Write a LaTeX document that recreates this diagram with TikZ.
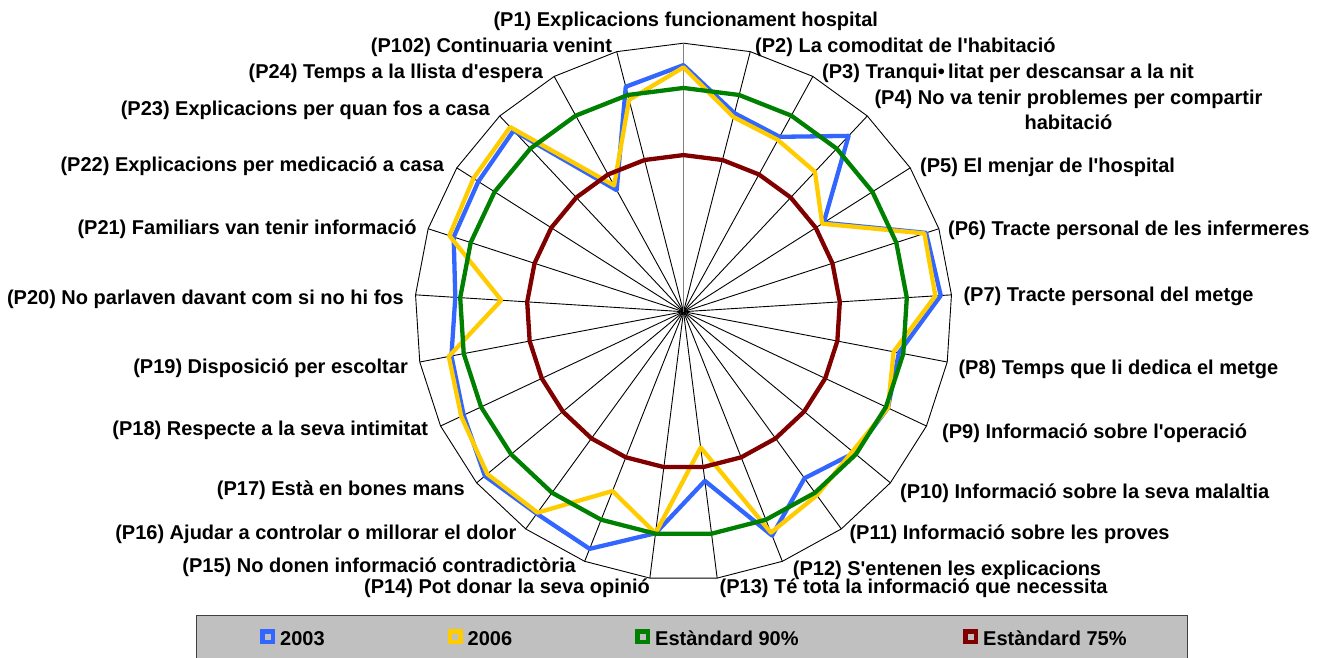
\documentclass[tikz,border=0pt]{standalone}
\usepackage{fontspec}
\setmainfont{Liberation Sans}
\definecolor{sblue}{HTML}{3366FF}
\definecolor{syellow}{HTML}{FFCC00}
\definecolor{sgreen}{HTML}{008000}
\definecolor{sred}{HTML}{800000}
\definecolor{legbg}{HTML}{C0C0C0}
\newcommand{\aq}{\textquotesingle}
\begin{document}
\begin{tikzpicture}[x=1pt,y=-1pt,
  lab/.style={font=\bfseries\fontsize{20}{24}\selectfont, inner sep=0pt},
  labr/.style={lab, anchor=base west},
  labl/.style={lab, anchor=base east},
  spoke/.style={black, line width=0.9pt},
  firstaxis/.style={black!50, line width=1.8pt},
  rim/.style={black, line width=0.9pt, line join=miter},
  series/.style={line width=4.3pt, line join=round},
  mk/.style={line width=4.5pt, fill=legbg, minimum size=10.5pt, inner sep=0pt, draw}
]
\useasboundingbox (0,0) rectangle (1330,658);
\clip (0,0) rectangle (1330,658);
\begin{scope}[shift={(683.5,311.7)}, y=1pt]
  \coordinate (c) at (0,0);
  \foreach \k in {0,...,24}
    \coordinate (o\k) at ({90-14.4*\k}:268.5);
  % outer rim and spokes
  \draw[rim] (o0) \foreach \k in {1,...,24} {-- (o\k)} -- cycle;
  \foreach \k in {1,...,24} \draw[spoke] (c) -- (o\k);
  \draw[firstaxis] (c) -- (o0);
  % series 2003
  \foreach \v [count=\k from 0] in {95.1,85.8,84.6,93.9,77.1,97.0,97.6,89.0,90.5,89.5,86.0,93.8,78.1,89.9,97.0,95.8,97.6,94.3,92.8,91.1,94.0,94.3,95.5,71.0,91.9}
    \coordinate (b\k) at ({90-14.4*\k}:{4.475*(\v-40)});
  \draw[series, sblue] (b0) \foreach \k in {1,...,24} {-- (b\k)} -- cycle;
  % series 2006
  \foreach \v [count=\k from 0] in {94.6,84.9,83.8,82.9,76.7,96.6,96.4,87.8,90.5,89.0,90.7,93.1,70.6,89.9,83.1,95.5,96.9,94.9,93.4,80.8,95.0,95.6,96.6,72.2,88.9}
    \coordinate (y\k) at ({90-14.4*\k}:{4.475*(\v-40)});
  \draw[series, syellow] (y0) \foreach \k in {1,...,24} {-- (y\k)} -- cycle;
  % standards
  \foreach \k in {0,...,24} {
    \coordinate (g\k) at ({90-14.4*\k}:{4.475*50});
    \coordinate (r\k) at ({90-14.4*\k}:{4.475*35});
  }
  \draw[series, sgreen] (g0) \foreach \k in {1,...,24} {-- (g\k)} -- cycle;
  \draw[series, sred] (r0) \foreach \k in {1,...,24} {-- (r\k)} -- cycle;
\end{scope}
% category labels
\node[labr] (l1) at (493.3,26.7) {(P1) Explicacions funcionament hospital};
\node[labr] (l2) at (755,52.7) {(P2) La comoditat de l\aq habitació};
\node[labr] (l3) at (822,78.3) {(P3) Tranqui•\,litat per descansar a la nit};
\node[lab, anchor=base] (l4) at (1068.5,104.3) {(P4) No va tenir problemes per compartir};
\node[lab, anchor=base] (l4b) at (1068.5,130) {habitació};
\node[labr] (l5) at (920,172) {(P5) El menjar de l\aq hospital};
\node[labr] (l6) at (948,235) {(P6) Tracte personal de les infermeres};
\node[labr] (l7) at (963.3,301.7) {(P7) Tracte personal del metge};
\node[labr] (l8) at (958.3,374) {(P8) Temps que li dedica el metge};
\node[labr] (l9) at (942,438) {(P9) Informació sobre l\aq operació};
\node[labr] (l10) at (900,498.3) {(P10) Informació sobre la seva malaltia};
\node[labr] (l11) at (849.3,539.3) {(P11) Informació sobre les proves};
\node[labr] (l12) at (792.7,575) {(P12) S\aq entenen les explicacions};
\node[labr] (l13) at (719.5,593.3) {(P13) Té tota la informació que necessita};
\node[labl] (l14) at (650,593.3) {(P14) Pot donar la seva opinió};
\node[labl] (l15) at (576,572.7) {(P15) No donen informació contradictòria};
\node[labl] (l16) at (516.7,539) {(P16) Ajudar a controlar o millorar el dolor};
\node[labl] (l17) at (465,495.7) {(P17) Està en bones mans};
\node[labl] (l18) at (428.3,435) {(P18) Respecte a la seva intimitat};
\node[labl] (l19) at (408,373) {(P19) Disposició per escoltar};
\node[labl] (l20) at (404,304) {(P20) No parlaven davant com si no hi fos};
\node[labl] (l21) at (416.7,234) {(P21) Familiars van tenir informació};
\node[labl] (l22) at (444.3,171.7) {(P22) Explicacions per medicació a casa};
\node[labl] (l23) at (490,116) {(P23) Explicacions per quan fos a casa};
\node[labl] (l24) at (543.3,78.3) {(P24) Temps a la llista d\aq espera};
\node[labl] (l102) at (612.3,52.7) {(P102) Continuaria venint};
% legend
\draw[fill=legbg, draw=black!75, line width=1.2pt] (196.5,615.5) rectangle (1187.5,665);
\node[mk, draw=sblue] (m1) at (267.5,636.7) {};
\node[labr] (t1) at (280,645.7) {2003};
\node[mk, draw=syellow] (m2) at (455.2,636.7) {};
\node[labr] (t2) at (467.5,645.7) {2006};
\node[mk, draw=sgreen] (m3) at (642.5,636.7) {};
\node[labr] (t3) at (655,645.7) {Estàndard 90\%};
\node[mk, draw=sred] (m4) at (970.5,636.7) {};
\node[labr] (t4) at (983,645.7) {Estàndard 75\%};
\end{tikzpicture}
\end{document}
